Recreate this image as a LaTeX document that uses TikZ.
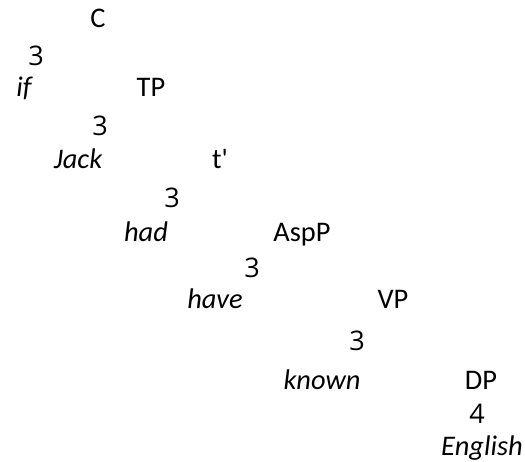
\documentclass[tikz,border=0pt]{standalone}
\usepackage{fontspec}
\setmainfont{Carlito}
\newfontfamily\branchfont{Open Sans}
\usetikzlibrary{positioning}

\tikzset{
	cat/.style={anchor=base, inner sep=0pt, font=\fontsize{14.2}{16}\selectfont},
	word/.style={cat, font=\fontsize{14.2}{16}\selectfont\itshape},
	branch/.style={anchor=base, inner sep=0pt, font=\branchfont\fontsize{13.5}{15}\selectfont},
}

\begin{document}
\begin{tikzpicture}[x=0.5pt, y=-0.5pt]
	\useasboundingbox (0,0) rectangle (525,461);
	% C and its branches
	\node[cat] (C) at (98,27) {C};
	\node[branch] (br-1) at (36,65) {3};
	\node[word] (if) at (24,96) {if};
	\node[cat] (TP) at (151,96) {TP};
	% TP
	\node[branch] (br-2) at (100,135) {3};
	\node[word] (Jack) at (78,168) {Jack};
	\node[cat] (tbar) at (220,168) {t\textquotesingle};
	% t'
	\node[branch] (br-3) at (172,207) {3};
	\node[word] (had) at (146,241) {had};
	\node[cat] (AspP) at (302,241) {AspP};
	% AspP
	\node[branch] (br-4) at (252,277) {3};
	\node[word] (have) at (215,308) {have};
	\node[cat] (VP) at (393,308) {VP};
	% VP
	\node[branch] (br-5) at (357,350) {3};
	\node[word] (known) at (322,389) {known};
	\node[cat] (DP) at (481,389) {DP};
	% DP
	\node[branch] (br-6) at (477,423) {4};
	\node[word] (English) at (482,455) {English};
\end{tikzpicture}
\end{document}
